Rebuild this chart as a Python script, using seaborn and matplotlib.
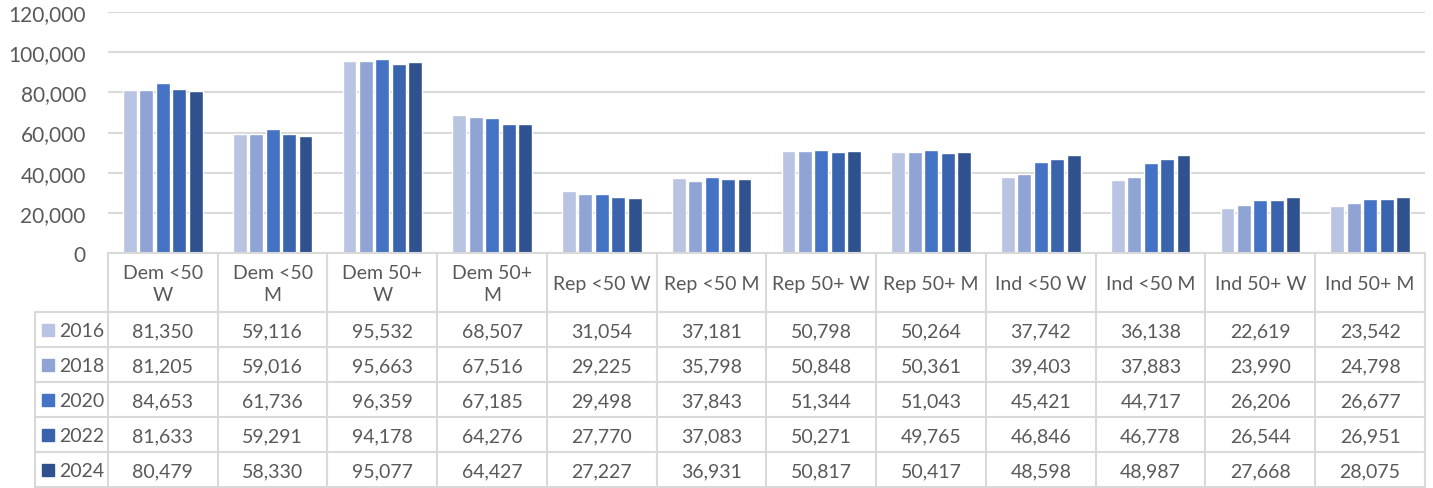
import seaborn as sns
import matplotlib.pyplot as plt
import pandas as pd

groups = ["Dem <50 W", "Dem <50 M", "Dem 50+ W", "Dem 50+ M", "Rep <50 W", "Rep <50 M",
          "Rep 50+ W", "Rep 50+ M", "Ind <50 W", "Ind <50 M", "Ind 50+ W", "Ind 50+ M"]
header_labels = ["Dem <50\nW", "Dem <50\nM", "Dem 50+\nW", "Dem 50+\nM", "Rep <50 W", "Rep <50 M",
                 "Rep 50+ W", "Rep 50+ M", "Ind <50 W", "Ind <50 M", "Ind 50+ W", "Ind 50+ M"]
years = ["2016", "2018", "2020", "2022", "2024"]
v2016 = [81350, 59116, 95532, 68507, 31054, 37181, 50798, 50264, 37742, 36138, 22619, 23542]
v2018 = [81205, 59016, 95663, 67516, 29225, 35798, 50848, 50361, 39403, 37883, 23990, 24798]
v2020 = [84653, 61736, 96359, 67185, 29498, 37843, 51344, 51043, 45421, 44717, 26206, 26677]
v2022 = [81633, 59291, 94178, 64276, 27770, 37083, 50271, 49765, 46846, 46778, 26544, 26951]
v2024 = [80479, 58330, 95077, 64427, 27227, 36931, 50817, 50417, 48598, 48987, 27668, 28075]
colors = ["#B9C3E2", "#8FA4D5", "#4472C4", "#3A63AD", "#2F528F"]

series = [v2016, v2018, v2020, v2022, v2024]
rows = []
for yr, vals in zip(years, series):
    for g, v in zip(groups, vals):
        rows.append({"group": g, "year": yr, "value": v})
df = pd.DataFrame(rows)

sns.set_style("white")
plt.rcParams["font.family"] = ["Lato", "DejaVu Sans"]
txt = "#595959"
line_c = "#D9D9D9"

W, H = 1433, 489
fig = plt.figure(figsize=(W / 100, H / 100), dpi=100)
x0, x1, y_top, y_zero = 108, 1425, 13, 254
ax = fig.add_axes([x0 / W, 1 - y_zero / H, (x1 - x0) / W, (y_zero - y_top) / H])

sns.barplot(data=df, x="group", y="value", hue="year", palette=colors, order=groups,
            hue_order=years, width=0.75, gap=0.16, saturation=1, legend=False, ax=ax, zorder=3)
ax.set_xlim(-0.5, len(groups) - 0.5)
ax.set_ylim(0, 120000)
ax.set_yticks(range(0, 120001, 20000))
ax.set_yticklabels([f"{t:,}" for t in range(0, 120001, 20000)], color=txt, fontsize=15)
ax.tick_params(axis="y", length=0, pad=16)
ax.set_xticks([])
ax.set_xlabel("")
ax.set_ylabel("")
ax.grid(axis="y", color=line_c, linewidth=1.5, zorder=0)
ax.set_axisbelow(True)
for s in ["top", "right", "left", "bottom"]:
    ax.spines[s].set_visible(False)

# data table below the plot
tab = fig.add_axes([0, 0, 1, 1], facecolor="none")
tab.set_xlim(0, W)
tab.set_ylim(H, 0)
tab.axis("off")

col_w = (x1 - x0) / len(groups)
head_bottom = 313
row_h = 35
left = 35
lw = 1.5
tab.plot([x0, x1], [y_zero, y_zero], color=line_c, lw=lw)
for i in range(len(years) + 1):
    y = head_bottom + i * row_h
    tab.plot([left, x1], [y, y], color=line_c, lw=lw)
for j in range(len(groups) + 1):
    xx = x0 + j * col_w
    tab.plot([xx, xx], [y_zero, head_bottom + len(years) * row_h], color=line_c, lw=lw)
tab.plot([left, left], [head_bottom, head_bottom + len(years) * row_h], color=line_c, lw=lw)

for j, lab in enumerate(header_labels):
    tab.text(x0 + (j + 0.5) * col_w, (y_zero + head_bottom) / 2 + 1, lab, ha="center",
             va="center", color=txt, fontsize=14, linespacing=1.3)

for i, (yr, vals, c) in enumerate(zip(years, series, colors)):
    yc = head_bottom + (i + 0.5) * row_h
    tab.add_patch(plt.Rectangle((42, yc - 6), 12, 12, color=c))
    tab.text(59, yc + 1, yr, ha="left", va="center", color=txt, fontsize=14)
    for j, v in enumerate(vals):
        tab.text(x0 + (j + 0.5) * col_w, yc + 1, f"{v:,}", ha="center", va="center",
                 color=txt, fontsize=14)

fig.savefig("out.png", dpi=100)
